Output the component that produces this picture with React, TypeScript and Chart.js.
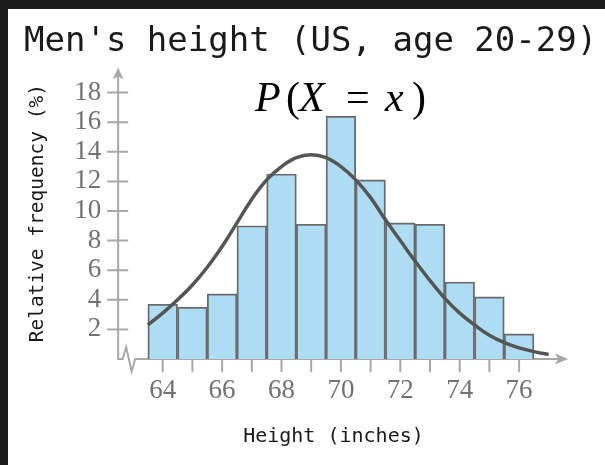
import { useEffect, useRef } from "react";
import { Chart, registerables } from "chart.js";

Chart.register(...registerables);

// ---- data ----
const TITLE = "Men's height (US, age 20-29)";
const X_TITLE = "Height (inches)";
const Y_TITLE = "Relative frequency (%)";

const BAR_HEIGHT_IN = [64, 65, 66, 67, 68, 69, 70, 71, 72, 73, 74, 75, 76];
const BAR_FREQ = [3.7, 3.5, 4.4, 9.0, 12.5, 9.1, 16.4, 12.1, 9.2, 9.1, 5.2, 4.2, 1.7];

const CURVE_X = [63.5, 64, 64.5, 65, 65.5, 66, 66.5, 67, 67.5, 68, 68.5, 69, 69.5, 70, 70.5, 71, 71.5, 72, 72.5, 73, 73.5, 74, 74.5, 75, 75.5, 76, 76.5, 77];
const CURVE_Y = [2.3, 3.1, 4.0, 5.0, 6.2, 7.6, 9.2, 10.8, 12.1, 13.0, 13.6, 13.8, 13.6, 13.0, 12.1, 10.9, 9.4, 8.0, 6.6, 5.3, 4.1, 3.1, 2.3, 1.6, 1.1, 0.75, 0.5, 0.3];

const X_TICK_LABELS = [64, 66, 68, 70, 72, 74, 76];
const X_TICK_MARKS = [64, 65, 66, 67, 68, 69, 70, 71, 72, 73, 74, 75, 76];
const Y_TICKS = [2, 4, 6, 8, 10, 12, 14, 16, 18];

const X_MIN = 62.5;
const X_MAX = 77;
const X_ARROW_END = 77.65;
const Y_MIN = 0;
const Y_MAX = 19.7;
const FORMULA_AT = 70;

// ---- styles ----
const MONO = "'DejaVu Sans Mono', monospace";
const SERIF = "'Liberation Serif', 'Times New Roman', serif";
const AXIS = "#a8a8a8";
const TICK_TEXT = "#727272";
const BAR_FILL = "#aedcf3";
const BAR_EDGE = "#6b6b6b";
const CURVE = "#555555";
const TEXT = "#1a1a1a";

const decor = {
  id: "decor",
  beforeDraw(chart: any) {
    const { ctx, width, height } = chart;
    ctx.save();
    ctx.fillStyle = "#1c1c1c";
    ctx.fillRect(0, 0, width, height);
    ctx.fillStyle = "#ffffff";
    ctx.fillRect(8, 9, width - 8, height - 9);
    ctx.restore();
  },
  beforeDatasetsDraw(chart: any) {
    const { ctx, chartArea, scales } = chart;
    const { left, top, bottom } = chartArea;
    const x = scales.x;
    const y = scales.y;
    const xEnd = x.getPixelForValue(X_ARROW_END);
    ctx.save();
    ctx.strokeStyle = AXIS;
    ctx.fillStyle = AXIS;
    ctx.lineWidth = 2;
    ctx.lineJoin = "miter";
    ctx.beginPath();
    ctx.moveTo(left, top + 8);
    ctx.lineTo(left, bottom);
    ctx.lineTo(left + 4.5, bottom);
    ctx.lineTo(left + 8, bottom - 12);
    ctx.lineTo(left + 13.5, bottom + 12.5);
    ctx.lineTo(left + 17, bottom);
    ctx.lineTo(xEnd - 8, bottom);
    ctx.stroke();
    ctx.beginPath();
    Y_TICKS.forEach((v) => {
      const py = y.getPixelForValue(v);
      ctx.moveTo(left - 11, py);
      ctx.lineTo(left + 10, py);
    });
    X_TICK_MARKS.forEach((v) => {
      const px = x.getPixelForValue(v);
      ctx.moveTo(px, bottom);
      ctx.lineTo(px, bottom + 13);
    });
    ctx.stroke();
    ctx.beginPath();
    ctx.moveTo(left, top);
    ctx.lineTo(left + 5.5, top + 12);
    ctx.lineTo(left, top + 9);
    ctx.lineTo(left - 5.5, top + 12);
    ctx.closePath();
    ctx.fill();
    ctx.beginPath();
    ctx.moveTo(xEnd, bottom);
    ctx.lineTo(xEnd - 13, bottom - 5.5);
    ctx.lineTo(xEnd - 10, bottom);
    ctx.lineTo(xEnd - 13, bottom + 5.5);
    ctx.closePath();
    ctx.fill();
    ctx.restore();
  },
  afterDraw(chart: any) {
    const { ctx, scales } = chart;
    const cx = scales.x.getPixelForValue(FORMULA_AT);
    const baseY = 111;
    const segs: [string, boolean, number][] = [
      ["P", true, -86],
      ["(", false, -55],
      ["X", true, -42],
      ["=", false, 5],
      ["x", true, 44],
      [")", false, 71],
    ];
    ctx.save();
    ctx.fillStyle = "#000";
    ctx.textBaseline = "alphabetic";
    ctx.textAlign = "left";
    segs.forEach(([t, it, dx]) => {
      ctx.font = `${it ? "italic " : ""}42px ${SERIF}`;
      ctx.fillText(t, cx + dx, baseY);
    });
    ctx.restore();
  },
};

export default function App() {
  const ref = useRef<HTMLCanvasElement>(null);
  useEffect(() => {
    if (!ref.current) return;
    const chart = new Chart(ref.current, {
      type: "bar",
      data: {
        datasets: [
          {
            type: "line",
            label: "P(X = x)",
            data: CURVE_X.map((v, i) => ({ x: v, y: CURVE_Y[i] })),
            borderColor: CURVE,
            borderWidth: 3.5,
            pointRadius: 0,
            tension: 0.4,
            fill: false,
            order: 0,
          } as any,
          {
            type: "bar",
            label: "Relative frequency",
            data: BAR_HEIGHT_IN.map((v, i) => ({ x: v, y: BAR_FREQ[i] })),
            backgroundColor: BAR_FILL,
            borderColor: BAR_EDGE,
            borderWidth: 1.9,
            barPercentage: 1,
            categoryPercentage: 1,
            order: 1,
          } as any,
        ],
      },
      options: {
        responsive: false,
        animation: false,
        devicePixelRatio: 1,
        layout: { padding: { left: 24, right: 4, top: 21.6, bottom: 0 } },
        plugins: {
          legend: { display: false },
          tooltip: { enabled: false },
          title: {
            display: true,
            text: TITLE,
            align: "start",
            color: TEXT,
            font: { family: MONO, size: 34, weight: "normal" },
            padding: { top: 0, bottom: 5 },
          },
        },
        scales: {
          x: {
            type: "linear",
            min: X_MIN,
            max: X_MAX,
            offset: false,
            afterBuildTicks: (s: any) => {
              s.ticks = X_TICK_LABELS.map((v) => ({ value: v }));
            },
            afterFit: (s: any) => {
              s.height = 106;
            },
            grid: { display: false, drawTicks: false },
            border: { display: false },
            ticks: {
              autoSkip: false,
              maxRotation: 0,
              padding: 16,
              color: TICK_TEXT,
              font: { family: SERIF, size: 27 },
            },
            title: {
              display: true,
              text: X_TITLE,
              color: TEXT,
              font: { family: MONO, size: 20 },
              padding: { top: 0, bottom: 16 },
            },
          },
          y: {
            type: "linear",
            min: Y_MIN,
            max: Y_MAX,
            afterBuildTicks: (s: any) => {
              s.ticks = Y_TICKS.map((v) => ({ value: v }));
            },
            afterFit: (s: any) => {
              s.width = 94.15;
            },
            grid: { display: false, drawTicks: false },
            border: { display: false },
            ticks: {
              padding: 17,
              color: TICK_TEXT,
              font: { family: SERIF, size: 27 },
            },
            title: {
              display: true,
              text: Y_TITLE,
              color: TEXT,
              font: { family: MONO, size: 19.5 },
              padding: { top: 2.2, bottom: 0 },
            },
          },
          yPad: {
            type: "linear",
            position: "right",
            display: true,
            min: 0,
            max: 1,
            grid: { display: false, drawTicks: false },
            border: { display: false },
            ticks: { display: false },
            title: { display: false },
            afterFit: (s: any) => {
              s.width = 52.2;
            },
          },
        },
      } as any,
      plugins: [decor],
    });
    return () => chart.destroy();
  }, []);
  return (
    <div style={{ position: "fixed", left: 0, top: 0, width: 605, height: 465 }}>
      <canvas ref={ref} width={605} height={465} style={{ display: "block", width: 605, height: 465 }} />
    </div>
  );
}
